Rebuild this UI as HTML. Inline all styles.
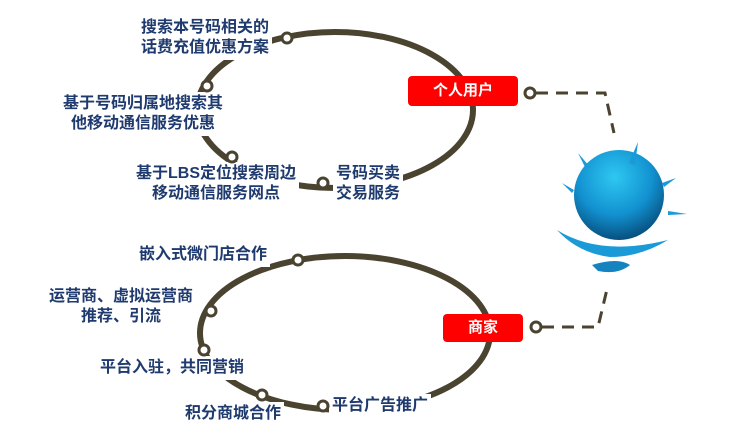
<!DOCTYPE html>
<html><head><meta charset="utf-8"><style>
body{margin:0;background:#fff;width:735px;height:448px;overflow:hidden;position:relative;font-family:"Liberation Sans","Noto Sans CJK SC",sans-serif}
.t{position:absolute;color:#1f3a6e;font-size:16px;font-weight:bold;line-height:20px;background:#fff;white-space:nowrap;text-align:center;padding:2px 3px}
.b{position:absolute;background:#f00;color:#fff;font-weight:bold;font-size:15px;border-radius:4px;text-align:center}
</style></head><body>
<svg width="735" height="448" style="position:absolute;left:0;top:0">
<defs><radialGradient id="g" cx="0.45" cy="0.3" r="0.7"><stop offset="0" stop-color="#2ec8f2"/><stop offset="0.6" stop-color="#1291d0"/><stop offset="1" stop-color="#07507f"/></radialGradient></defs>
<ellipse cx="335" cy="110" rx="138" ry="78" fill="none" stroke="#4a4330" stroke-width="6"/>
<ellipse cx="345" cy="333" rx="145" ry="77" fill="none" stroke="#4a4330" stroke-width="6"/>
<g fill="none" stroke="#4a4330" stroke-width="3" stroke-dasharray="12,8">
<path d="M536 93 H605 L614 133"/>
<path d="M542 327 H598 L608 285"/>
</g>
<g transform="translate(0,-5)">
<circle cx="619" cy="200" r="45" fill="url(#g)"/>
<g fill="#1a9ad6">
<path d="M557 235 Q600 262 668 245 Q640 262 610 262 Q578 258 557 235Z"/>
<path d="M592 270 Q618 262 630 270 Q618 280 598 276Z" fill="#1483c0"/>
<path d="M638 147 L635 170 L629 168Z"/><path d="M578 158 L590 172 L586 174Z"/><path d="M562 188 L574 195 L572 198Z"/><path d="M676 183 L664 192 L662 188Z"/><path d="M687 219 L668 220 L668 216Z"/>
</g></g>
</svg>
<div class="t" style="left:138px;top:16px">搜索本号码相关的<br>话费充值优惠方案</div>
<div class="t" style="left:60px;top:92px">基于号码归属地搜索其<br>他移动通信服务优惠</div>
<div class="t" style="left:133px;top:162px">基于LBS定位搜索周边<br>移动通信服务网点</div>
<div class="t" style="left:333px;top:162px">号码买卖<br>交易服务</div>
<div class="t" style="left:136px;top:243px">嵌入式微门店合作</div>
<div class="t" style="left:46px;top:285px">运营商、虚拟运营商<br>推荐、引流</div>
<div class="t" style="left:97px;top:356px">平台入驻，共同营销</div>
<div class="t" style="left:182px;top:402px">积分商城合作</div>
<div class="t" style="left:329px;top:394px">平台广告推广</div>
<svg width="735" height="448" style="position:absolute;left:0;top:0">
<g fill="#fff" stroke="#4a4330" stroke-width="3">
<circle cx="287" cy="38" r="5"/><circle cx="207" cy="86" r="5"/><circle cx="232" cy="157" r="5"/><circle cx="323" cy="183" r="5"/>
<circle cx="298" cy="260" r="5"/><circle cx="211" cy="311" r="5"/><circle cx="204" cy="350" r="5"/><circle cx="262" cy="395" r="5"/><circle cx="323" cy="406" r="5"/>
<circle cx="530" cy="93" r="5"/><circle cx="536" cy="327" r="5"/>
</g></svg>
<div class="b" style="left:408px;top:76px;width:110px;height:30px;line-height:30px">个人用户</div>
<div class="b" style="left:443px;top:314px;width:80px;height:28px;line-height:28px">商家</div>
</body></html>
